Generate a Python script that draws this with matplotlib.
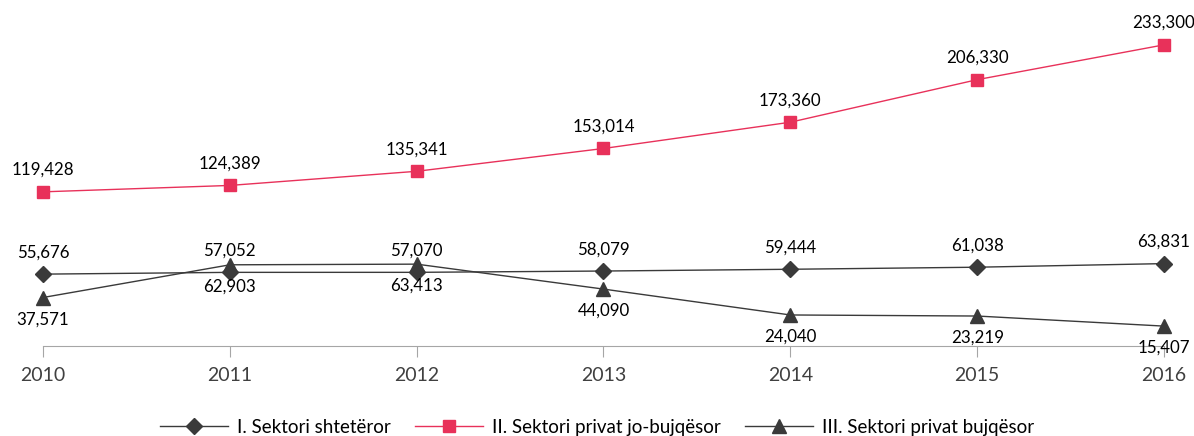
import matplotlib
matplotlib.use("Agg")
import matplotlib.pyplot as plt

plt.rcParams['font.family'] = ['Lato', 'DejaVu Sans']

years = [2010, 2011, 2012, 2013, 2014, 2015, 2016]
shteteror = [55676, 57052, 57070, 58079, 59444, 61038, 63831]
jo_bujqesor = [119428, 124389, 135341, 153014, 173360, 206330, 233300]
bujqesor = [37571, 62903, 63413, 44090, 24040, 23219, 15407]

names = ["I. Sektori shtetëror", "II. Sektori privat jo-bujqësor", "III. Sektori privat bujqësor"]

dark = "#3a3a3a"
pink = "#e8315a"

fig = plt.figure(figsize=(11.94, 4.36), dpi=100)
ax = fig.add_axes([43/1194, 1 - 346/436, (1164 - 43)/1194, (346 - 23.3)/436])

l1, = ax.plot(years, shteteror, color=dark, lw=1, marker="D", ms=8.5, mfc=dark, mec=dark, label=names[0], clip_on=False)
l2, = ax.plot(years, jo_bujqesor, color=pink, lw=1, marker="s", ms=8.5, mfc=pink, mec=pink, label=names[1], clip_on=False)
l3, = ax.plot(years, bujqesor, color=dark, lw=1, marker="^", ms=10.5, mfc=dark, mec=dark, label=names[2], clip_on=False)

for x, v in zip(years, shteteror):
    ax.annotate(f"{v:,}", (x, v), xytext=(0, 10), textcoords="offset points", ha="center", va="bottom", fontsize=12.2, color="black")
for x, v in zip(years, jo_bujqesor):
    ax.annotate(f"{v:,}", (x, v), xytext=(0, 10), textcoords="offset points", ha="center", va="bottom", fontsize=12.2, color="black")
for x, v in zip(years, bujqesor):
    ax.annotate(f"{v:,}", (x, v), xytext=(0, -10), textcoords="offset points", ha="center", va="top", fontsize=12.2, color="black")

ax.set_xlim(2010, 2016)
ax.set_ylim(0, 250000)
ax.set_yticks([])
for s in ["top", "left", "right"]:
    ax.spines[s].set_visible(False)
ax.spines["bottom"].set_color("#a6a6a6")
ax.set_xticks(years)
ax.set_xticklabels([str(y) for y in years], fontsize=14, color="#404040")
ax.tick_params(axis="x", length=8, color="#a6a6a6", direction="out", pad=7)
ax.patch.set_visible(False)

fig.legend(handles=[l1, l2, l3], loc="center", bbox_to_anchor=(0.5, 1 - 427/436), ncol=3,
           frameon=False, fontsize=13.5, handlelength=3.6, columnspacing=1.3, handletextpad=0.5)

fig.savefig("out.png", dpi=100)
